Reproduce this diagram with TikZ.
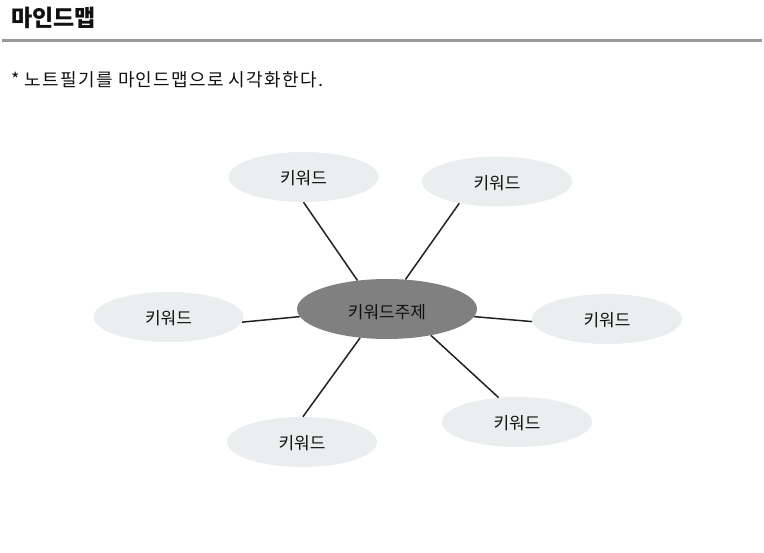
\documentclass[tikz,border=0pt]{standalone}
\usepackage{fontspec}
\setmainfont{Noto Sans CJK KR}
\newfontfamily\subfont[LetterSpace=7]{Noto Sans CJK KR}
\usetikzlibrary{shapes.geometric}
\definecolor{kwfill}{HTML}{EBEEEE}
\definecolor{mainfill}{HTML}{808080}
\definecolor{rulegray}{HTML}{999999}
\definecolor{linkcol}{HTML}{222222}
\definecolor{txt}{HTML}{111111}
\tikzset{
  kwnode/.style={ellipse, fill=kwfill, draw=none, minimum width=150pt, minimum height=50pt, inner sep=0pt, text height=16pt, text depth=0pt, text=txt, font=\fontsize{17pt}{19pt}\selectfont},
  mainnode/.style={ellipse, fill=mainfill, draw=none, minimum width=180pt, minimum height=60pt, inner sep=0pt, text height=18.5pt, text depth=0pt, text=txt, font=\fontsize{17pt}{19pt}\selectfont},
  link/.style={draw=linkcol, line width=1.5pt},
}
\begin{document}
\begin{tikzpicture}[x=1pt,y=-1pt]
\useasboundingbox (0,0) rectangle (764,553);
\node[anchor=west, inner sep=0pt, text=txt, font=\fontsize{23pt}{25pt}\selectfont\bfseries] (title) at (11,18) {마인드맵};
\coordinate (ruleL) at (2,40.5);
\coordinate (ruleR) at (762,40.5);
\draw[rulegray, line width=3pt] (ruleL) -- (ruleR);
\node[anchor=west, inner sep=0pt, text=txt, font=\subfont\fontsize{18pt}{20pt}\selectfont] (sub) at (11,80) {* 노트필기를 마인드맵으로 시각화한다.};

\node[mainnode] (c) at (387,309) {키워드주제};
\node[kwnode] (tl) at (303.5,177) {키워드};
\node[kwnode] (tr) at (497,181.5) {키워드};
\node[kwnode] (l) at (168.5,317) {키워드};
\node[kwnode] (r) at (607,319) {키워드};
\node[kwnode] (br) at (517,422) {키워드};
\node[kwnode] (bl) at (302,442) {키워드};

\draw[link] (c.136) -- (tl.270);
\draw[link] (c.58) -- (tr.210);
\draw[link] (c.185) -- (l.356);
\draw[link] (c.355) -- (r.182);
\draw[link] (c.329) -- (br.127);
\draw[link] (c.227) -- (bl.88);
\end{tikzpicture}
\end{document}
